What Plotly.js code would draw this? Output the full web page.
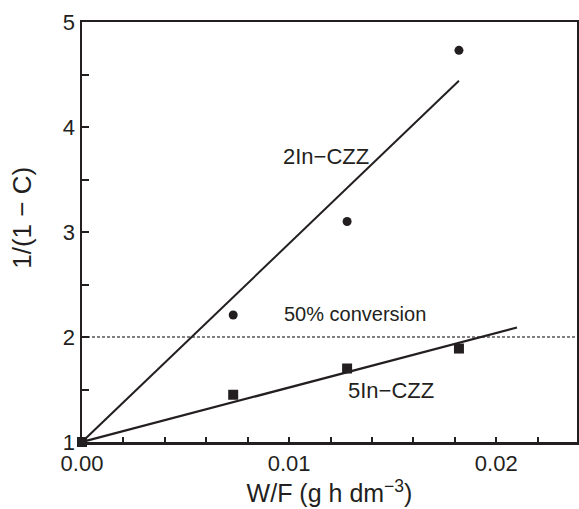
<!DOCTYPE html>
<html>
<head>
<meta charset="utf-8">
<script src="https://cdn.plot.ly/plotly-3.0.1.min.js"></script>
<style>html,body{margin:0;padding:0;background:#fff;}#chart{width:579px;height:509px;}</style>
</head>
<body>
<div id="chart"></div>
<script>
// Measured data
const wf = [0.0, 0.0073, 0.0128, 0.0182];
const conv2In = [1.0, 2.21, 3.10, 4.73];
const conv5In = [1.0, 1.45, 1.70, 1.89];
// Fitted lines (end points)
const fit2InX = [0.0, 0.0182];
const fit2InY = [1.0, 4.44];
const fit5InX = [0.0, 0.021];
const fit5InY = [1.0, 2.09];
// 50% conversion reference
const refX = [0.0, 0.0239];
const refY = [2.0, 2.0];
const labels = ["2In\u2212CZZ", "50% conversion", "5In\u2212CZZ"];
const yTitle = '1/(1 \u2212 C)';
const xTitle = 'W/F (g h dm<sup>\u22123</sup>)';

const ink = '#231f20';
const font = 'Liberation Sans, Arial, Helvetica, sans-serif';

const traces = [
  {x: refX, y: refY, mode: 'lines', line: {color: '#555', width: 1.3, dash: '3px,2px'}, hoverinfo: 'skip'},
  {x: fit2InX, y: fit2InY, mode: 'lines', line: {color: ink, width: 2}},
  {x: fit5InX, y: fit5InY, mode: 'lines', line: {color: ink, width: 2.2}},
  {x: wf, y: conv2In, mode: 'markers', marker: {symbol: 'circle', size: 9, color: ink}, cliponaxis: false},
  {x: wf, y: conv5In, mode: 'markers', marker: {symbol: 'square', size: 10, color: ink}, cliponaxis: false}
];

const layout = {
  width: 579, height: 509,
  margin: {l: 81.5, r: 2, t: 22, b: 67},
  paper_bgcolor: '#fff', plot_bgcolor: '#fff',
  showlegend: false,
  font: {family: font, color: ink},
  xaxis: {
    range: [0, 0.0239], showgrid: false, zeroline: false,
    showline: true, linecolor: ink, linewidth: 2.5, mirror: true,
    tickmode: 'array', tickvals: [0, 0.01, 0.02], ticktext: ['0.00', '0.01', '0.02'],
    ticks: 'inside', ticklen: 5, tickwidth: 2, tickcolor: ink,
    minor: {dtick: 0.002, tick0: 0, ticks: 'inside', ticklen: 5, tickwidth: 2, tickcolor: ink, showgrid: false},
    tickfont: {size: 22, family: font, color: ink},
    title: {text: xTitle, font: {size: 25, family: font, color: ink}, standoff: 6}
  },
  yaxis: {
    range: [1, 5], showgrid: false, zeroline: false,
    showline: true, linecolor: ink, linewidth: 2.5, mirror: true,
    tickmode: 'array', tickvals: [1, 2, 3, 4, 5],
    ticks: 'inside', ticklen: 7, tickwidth: 2, tickcolor: ink,
    minor: {dtick: 0.5, tick0: 1, ticks: 'inside', ticklen: 7, tickwidth: 2, tickcolor: ink, showgrid: false},
    tickfont: {size: 22, family: font, color: ink}
  },
  annotations: [
    {x: 0.01176, y: 3.72, xref: 'x', yref: 'y', text: labels[0], showarrow: false, font: {size: 22, family: font, color: ink}},
    {x: 0.01319, y: 2.216, xref: 'x', yref: 'y', text: labels[1], showarrow: false, font: {size: 20, family: font, color: ink}},
    {x: 0.01492, y: 1.49, xref: 'x', yref: 'y', text: labels[2], showarrow: false, font: {size: 22, family: font, color: ink}},
    {x: -0.12, y: 0.533, xref: 'paper', yref: 'paper', text: yTitle, textangle: -90, showarrow: false,
     xanchor: 'center', yanchor: 'middle', font: {size: 26, family: font, color: ink}}
  ]
};

Plotly.newPlot('chart', traces, layout, {displayModeBar: false, staticPlot: true});
</script>
</body>
</html>
